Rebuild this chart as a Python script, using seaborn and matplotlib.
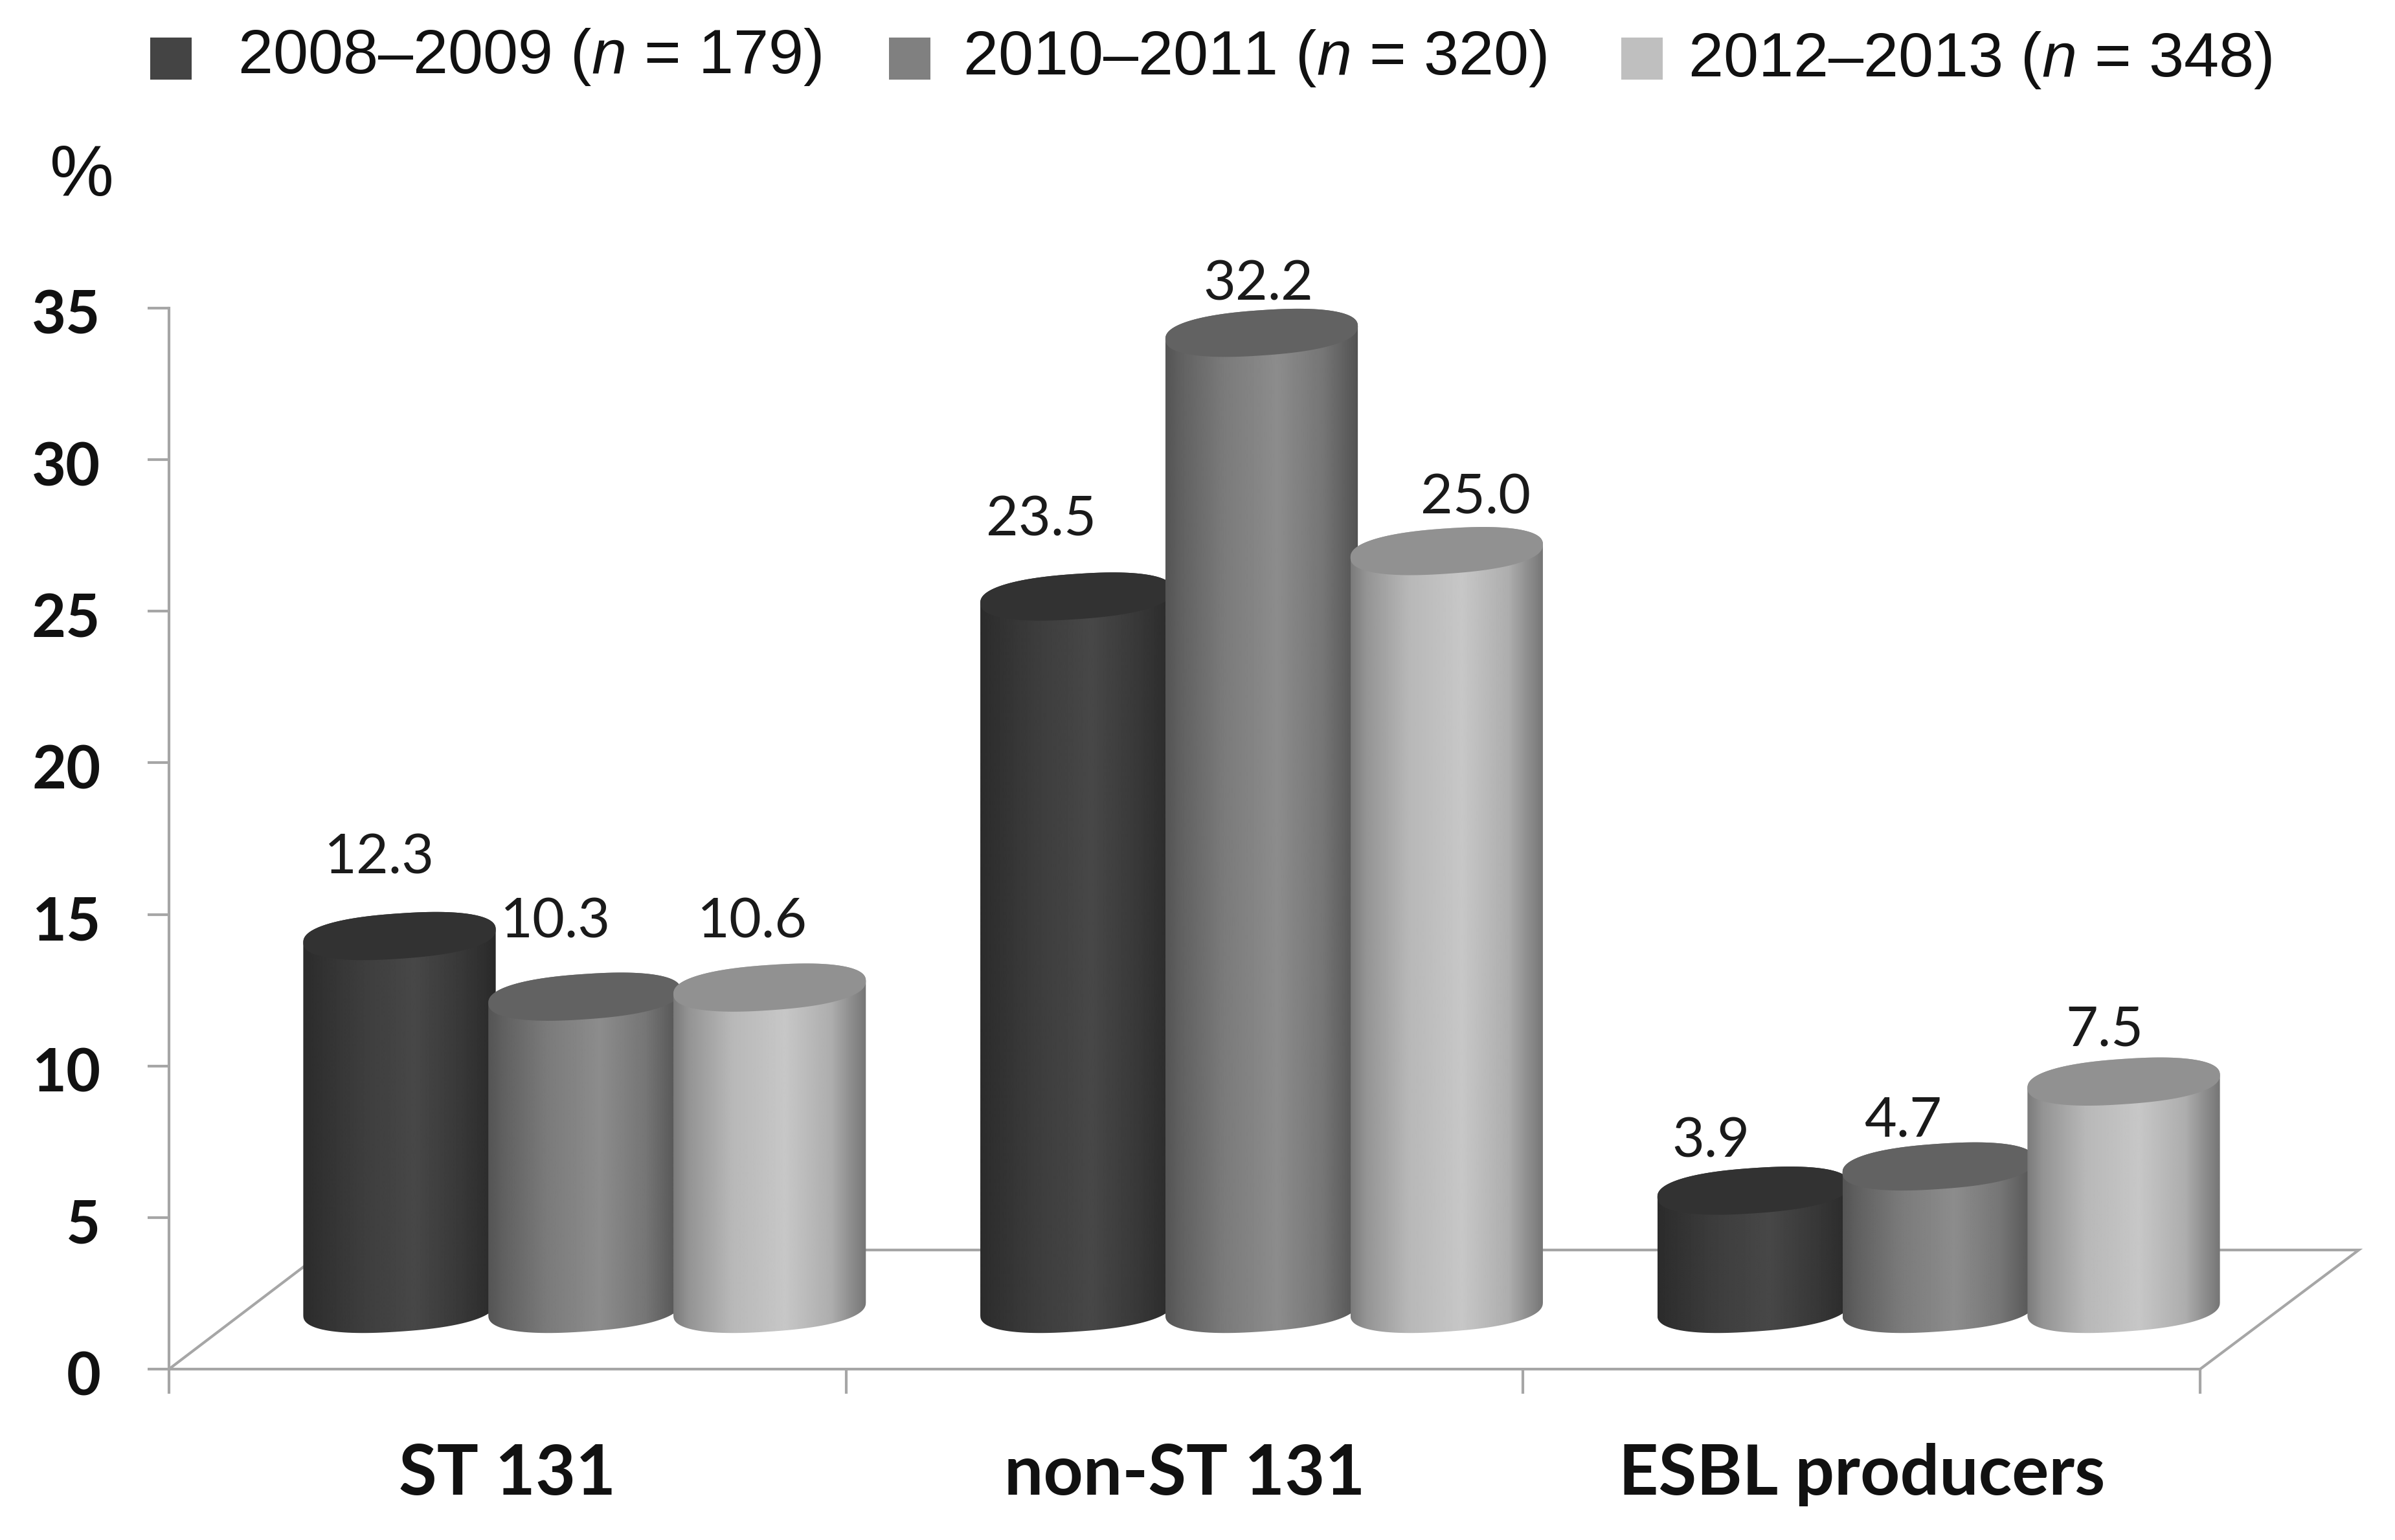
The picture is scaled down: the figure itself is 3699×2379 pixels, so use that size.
import numpy as np
import pandas as pd
import matplotlib
matplotlib.use("Agg")
import matplotlib.pyplot as plt
from matplotlib.path import Path
from matplotlib.patches import Rectangle
from matplotlib.transforms import ScaledTranslation
import seaborn as sns

# Datos
categorias = ["ST 131", "non-ST 131", "ESBL producers"]
periodos = [r"2008–2009 ($\mathit{n}$ = 179)",
            r"2010–2011 ($\mathit{n}$ = 320)",
            r"2012–2013 ($\mathit{n}$ = 348)"]
valores_2008 = [12.3, 23.5, 3.9]
valores_2010 = [10.3, 32.2, 4.7]
valores_2012 = [10.6, 25.0, 7.5]
y_ticks = [0, 5, 10, 15, 20, 25, 30, 35]

# Estilo
W, H = 3699, 2379
PX_X = 3137 / 3      # pixeles por categoria
PX_Y = 1639 / 35     # pixeles por unidad
BASE = 93 / PX_Y     # el piso 3D levanta la base de los cilindros
SHIFT = 119 / PX_X
ELIPSE_B = 35 / PX_Y
ELIPSE_T = 10 / PX_Y
REDONDEO = 0.85
GRIS = "#a6a6a6"

colores = ["#444444", "#808080", "#bfbfbf"]
tapas = ["#323232", "#626262", "#919191"]
stops_x = [0, 0.08, 0.3, 0.58, 0.82, 0.95, 1]
stops = [[0.17, 0.19, 0.24, 0.28, 0.22, 0.18, 0.16],
         [0.33, 0.38, 0.48, 0.55, 0.46, 0.36, 0.32],
         [0.48, 0.58, 0.72, 0.78, 0.68, 0.52, 0.46]]
# desplazamiento de cada etiqueta respecto de la tapa (dx, dy en pixeles)
nudges = [[(-31, 121), (-45, 115), (-27, 101)],
          [(-55, 118), (-5, 75), (45, 82)],
          [(-66, 76), (-55, 70), (-30, 79)]]
# leyenda: x del cuadrado, x del texto, linea base
leyenda_x = [(232, 367, 113), (1373, 1487, 115), (2504, 2607, 118)]

sns.set_theme(style="white")
plt.rcParams["font.family"] = ["Liberation Sans", "DejaVu Sans"]
plt.rcParams["mathtext.fontset"] = "custom"
plt.rcParams["mathtext.rm"] = "Liberation Sans"
plt.rcParams["mathtext.it"] = "Liberation Sans:italic"

df = pd.DataFrame({
    "categoria": categorias * 3,
    "periodo": np.repeat(periodos, 3),
    "valor": valores_2008 + valores_2010 + valores_2012,
})

fig = plt.figure(figsize=(W / 100, H / 100), dpi=100)
ax = fig.add_axes([261 / W, 1 - 2115 / H, 3137 / W, 1639 / H])
sns.barplot(data=df, x="categoria", y="valor", hue="periodo", order=categorias,
            hue_order=periodos, palette=colores, width=0.82, gap=0, legend=False, ax=ax)


def elipse(cx, cy, a, theta):
    c = np.cos(theta)
    s = np.sin(theta)
    c2 = np.sign(c) * np.abs(c) ** REDONDEO
    s2 = np.sign(s) * np.abs(s) ** REDONDEO
    return cx + a * c2, cy + ELIPSE_B * s2 + ELIPSE_T * c2


# Cada barra se reemplaza por un cilindro con gradiente
grad = np.linspace(0, 1, 300)
for i, cont in enumerate(ax.containers):
    fila = np.interp(grad, stops_x, stops[i])[np.newaxis, :]
    for j, barra in enumerate(cont.patches):
        barra.set_visible(False)
        cx = barra.get_x() + barra.get_width() / 2 + SHIFT
        a = barra.get_width() * 1.04 / 2
        alto = barra.get_height()
        arriba = BASE + alto
        t1 = np.linspace(np.pi, 2 * np.pi, 60)
        t2 = np.linspace(0, np.pi, 60)
        xb, yb = elipse(cx, BASE, a, t1)
        xt, yt = elipse(cx, arriba, a, t2)
        verts = np.column_stack([np.r_[xb, xt], np.r_[yb, yt]])
        im = ax.imshow(fila, extent=(cx - a, cx + a, BASE - 2, arriba + 2), aspect="auto",
                       cmap="gray", vmin=0, vmax=1, zorder=3 + i, interpolation="bilinear")
        im.set_clip_path(Path(np.vstack([verts, verts[0]])), ax.transData)
        im.set_clip_box(fig.bbox)
        xe, ye = elipse(cx, arriba, a, np.linspace(0, 2 * np.pi, 120))
        ax.fill(xe, ye, color=tapas[i], lw=0, zorder=3 + i, clip_on=False)
        dx, dy = nudges[j][i]
        ax.text(cx + dx / PX_X, arriba + dy / PX_Y, f"{alto:.1f}", ha="center", va="center",
                fontsize=62, family="Lato", color="#1a1a1a", zorder=10)

# Piso
fondo_y = 184 / PX_Y
atras_izq = -0.5 + 242 / PX_X
atras_der = 2.5 + 245 / PX_X
ax.plot([-0.5, atras_izq, atras_der, 2.5], [0, fondo_y, fondo_y, 0], color=GRIS, lw=3,
        clip_on=False, zorder=1, solid_joinstyle="miter")

ax.set_xlim(-0.5, 2.5)
ax.set_ylim(0, 35)
ax.set_xlabel("")
ax.set_ylabel("")
ax.set_yticks(y_ticks)
ax.set_xticks([-0.5, 0.5, 1.5, 2.5], labels=[""] * 4)
ax.set_xticks([0, 1, 2], labels=categorias, minor=True)
ax.tick_params(axis="y", length=24, width=3, color=GRIS, pad=52, labelsize=66, left=True)
ax.tick_params(axis="x", which="major", length=27, width=3, color=GRIS, bottom=True)
ax.tick_params(axis="x", which="minor", length=0, pad=82, labelsize=77)
bajar = ScaledTranslation(0, -6 / 100, fig.dpi_scale_trans)
for lab in ax.get_yticklabels():
    lab.set_transform(lab.get_transform() + bajar)
for lab in ax.get_xticklabels(minor=True) + ax.get_yticklabels():
    lab.set_family("Lato")
    lab.set_fontweight("bold")
    lab.set_color("#111111")

sns.despine(ax=ax)
for lado in ["left", "bottom"]:
    ax.spines[lado].set_color(GRIS)
    ax.spines[lado].set_linewidth(3)
ax.patch.set_alpha(0)

# Leyenda a mano, los huecos del original no son iguales
for periodo, color, (x_cuadro, x_texto, y_base) in zip(periodos, colores, leyenda_x):
    fig.patches.append(Rectangle((x_cuadro / W, 1 - 123 / H), 64 / W, 65 / H, color=color, lw=0,
                                 transform=fig.transFigure, figure=fig))
    fig.text(x_texto / W, 1 - y_base / H, periodo, fontsize=70, va="baseline", color="#111111")

fig.text(126 / W, 1 - 273 / H, "%", fontsize=80, ha="center", va="center", color="#111111")

fig.savefig("out.png", dpi=100, facecolor="white")
